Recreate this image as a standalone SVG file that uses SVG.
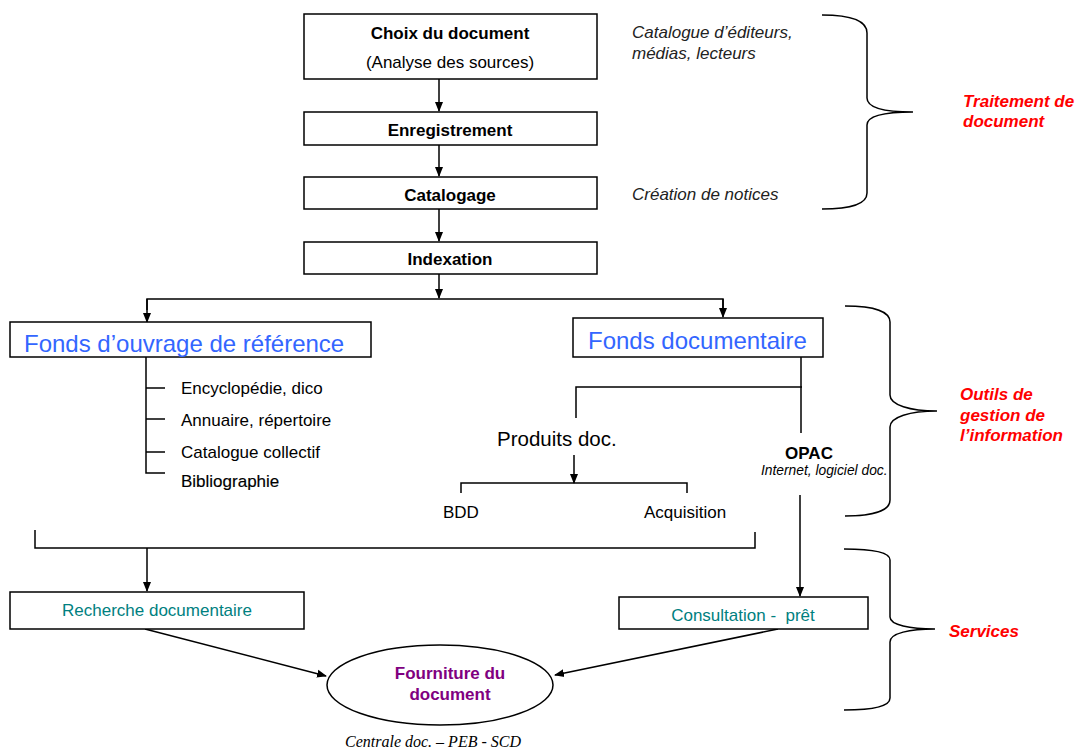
<svg xmlns="http://www.w3.org/2000/svg" width="1081" height="751" viewBox="0 0 1081 751">
<style>
.box{fill:#fff;stroke:#000;stroke-width:1.5}
.ln{fill:none;stroke:#000;stroke-width:1.5}
.br{fill:none;stroke:#000;stroke-width:1.5}
.t{font-family:"Liberation Sans",Arial,sans-serif;fill:#000;font-size:17px}
.b{font-weight:bold}
.i{font-style:italic}
.c{text-anchor:middle}
.note{fill:#222;font-style:italic;font-size:17px}
.red{fill:#ff0000;font-weight:bold;font-style:italic;font-size:17px}
.blue{fill:#3366ff;font-size:24px}
.teal{fill:#008080;font-size:17px}
.purple{fill:#800080;font-weight:bold;font-size:17px}
</style>
<defs>
<marker id="ah" markerWidth="10" markerHeight="10" refX="9" refY="5" orient="auto" markerUnits="userSpaceOnUse">
<path d="M0,1 L10,5 L0,9 Z" fill="#000"/>
</marker>
</defs>
<rect width="1081" height="751" fill="#fff"/>

<g id="connectors">
<line class="ln" x1="439" y1="79" x2="439" y2="111" marker-end="url(#ah)"/>
<line class="ln" x1="439" y1="145" x2="439" y2="176" marker-end="url(#ah)"/>
<line class="ln" x1="439" y1="209" x2="439" y2="241" marker-end="url(#ah)"/>
<line class="ln" x1="439" y1="274" x2="439" y2="298" marker-end="url(#ah)"/>
<polyline class="ln" points="147,310 147,299 723,299 723,310"/>
<line class="ln" x1="147" y1="299" x2="147" y2="322" marker-end="url(#ah)"/>
<line class="ln" x1="723" y1="299" x2="723" y2="317" marker-end="url(#ah)"/>
<polyline class="ln" points="146,357 146,473 165,473"/>
<line class="ln" x1="146" y1="388" x2="165" y2="388"/>
<line class="ln" x1="146" y1="419" x2="165" y2="419"/>
<line class="ln" x1="146" y1="452" x2="165" y2="452"/>
<line class="ln" x1="801" y1="357" x2="801" y2="433"/>
<polyline class="ln" points="576,418 576,387 802,387"/>
<line class="ln" x1="574" y1="455" x2="574" y2="483" marker-end="url(#ah)"/>
<polyline class="ln" points="461,493 461,483 687,483 687,493"/>
<line class="ln" x1="800" y1="495" x2="800" y2="596" marker-end="url(#ah)"/>
<polyline class="ln" points="35,530 35,548 755,548 755,532"/>
<line class="ln" x1="147" y1="548" x2="147" y2="591" marker-end="url(#ah)"/>
<line class="ln" x1="145" y1="629" x2="326" y2="676" marker-end="url(#ah)"/>
<line class="ln" x1="778" y1="629" x2="555" y2="675" marker-end="url(#ah)"/>
</g>

<g id="choix">
<rect class="box" x="304" y="14" width="293" height="65"/>
<text class="t b c" x="450" y="39">Choix du document</text>
<text class="t c" x="450" y="68">(Analyse des sources)</text>
</g>
<g id="enregistrement">
<rect class="box" x="304" y="112" width="293" height="33"/>
<text class="t b c" x="450" y="136">Enregistrement</text>
</g>
<g id="catalogage">
<rect class="box" x="304" y="177" width="293" height="32"/>
<text class="t b c" x="450" y="201">Catalogage</text>
</g>
<g id="indexation">
<rect class="box" x="304" y="242" width="293" height="32"/>
<text class="t b c" x="450" y="265">Indexation</text>
</g>

<g id="notes-traitement">
<text class="t note" x="632" y="38">Catalogue d’éditeurs,</text>
<text class="t note" x="632" y="59">médias, lecteurs</text>
<text class="t note" x="632" y="200">Création de notices</text>
</g>

<g id="fonds-reference">
<rect class="box" x="10" y="322" width="361" height="35"/>
<text class="t blue" x="24" y="352">Fonds d’ouvrage de référence</text>
</g>
<g id="liste-reference">
<text class="t" x="181" y="394">Encyclopédie, dico</text>
<text class="t" x="181" y="426">Annuaire, répertoire</text>
<text class="t" x="181" y="458">Catalogue collectif</text>
<text class="t" x="181" y="487" style="stroke:#000;stroke-width:0.15">Bibliographie</text>
</g>

<g id="fonds-documentaire">
<rect class="box" x="573" y="318" width="250" height="39"/>
<text class="t blue" x="588" y="349">Fonds documentaire</text>
</g>
<g id="produits">
<text class="t" x="497" y="446" style="font-size:20.5px">Produits doc.</text>
</g>
<g id="bdd"><text class="t" x="443" y="518">BDD</text></g>
<g id="acquisition"><text class="t" x="644" y="518">Acquisition</text></g>
<g id="opac">
<text class="t b c" x="809" y="459">OPAC</text>
<text class="t i" x="761" y="475" style="font-size:13.8px">Internet, logiciel doc.</text>
</g>

<g id="recherche">
<rect class="box" x="10" y="592" width="294" height="37"/>
<text class="t teal c" x="157" y="616">Recherche documentaire</text>
</g>
<g id="consultation">
<rect class="box" x="619" y="597" width="249" height="32"/>
<text class="t teal c" x="743" y="621" xml:space="preserve">Consultation -  prêt</text>
</g>
<g id="fourniture">
<ellipse class="box" cx="440" cy="685" rx="113" ry="40"/>
<text class="t purple c" x="450" y="679">Fourniture du</text>
<text class="t purple c" x="450" y="700">document</text>
</g>
<g id="centrale">
<text x="433" y="747" font-family="Liberation Serif,'Times New Roman',serif" font-style="italic" font-size="16" text-anchor="middle">Centrale doc. – PEB - SCD</text>
</g>

<g id="brace-traitement">
<path class="br" d="M822,15 C850,15 867,20 867,33 L867,98 C867,108 885,112 913,112 C885,112 867,116 867,125 L867,193 C867,204 850,209 822,209"/>
<text class="t red" x="963" y="107">Traitement de</text>
<text class="t red" x="963" y="127">document</text>
</g>
<g id="brace-outils">
<path class="br" d="M845,306 C875,306 890,312 890,322 L890,395 C890,405 910,411 937,411 C910,411 890,417 890,427 L890,500 C890,510 875,516 845,516"/>
<text class="t red" x="960" y="400">Outils de</text>
<text class="t red" x="960" y="421">gestion de</text>
<text class="t red" x="960" y="441">l’information</text>
</g>
<g id="brace-services">
<path class="br" d="M844,549 C875,549 890,553 890,560 L890,617 C890,625 910,629 935,629 C910,629 890,633 890,642 L890,698 C890,706 875,710 844,710"/>
<text class="t red" x="949" y="637">Services</text>
</g>
</svg>
